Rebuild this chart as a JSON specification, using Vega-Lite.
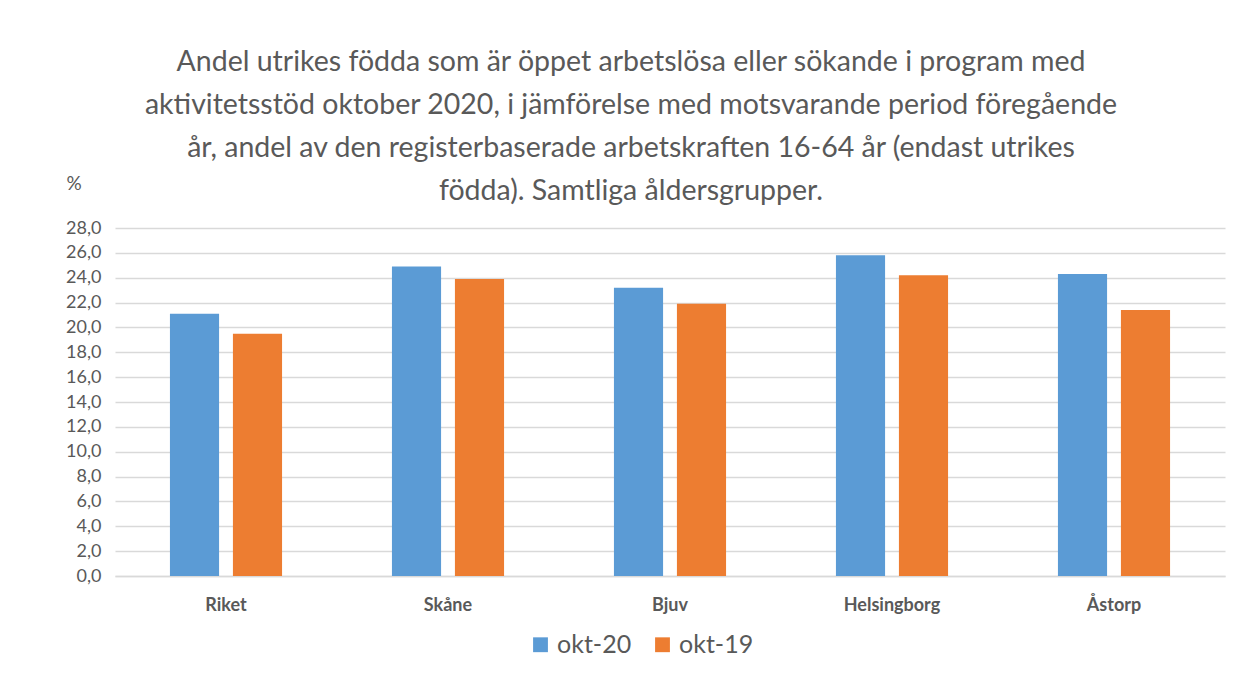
{
  "$schema": "https://vega.github.io/schema/vega-lite/v6.json",
  "autosize": "none",
  "width": 1110,
  "height": 348,
  "padding": {"left": 115, "top": 228, "right": 17, "bottom": 103},
  "background": "white",
  "config": {
    "locale": {"number": {"decimal": ",", "thousands": " ", "grouping": [3], "currency": ["", " kr"]}},
    "view": {"stroke": null},
    "font": "Lato"
  },
  "title": {
    "text": [
      "Andel utrikes födda som är öppet arbetslösa eller sökande i program med",
      "aktivitetsstöd oktober 2020, i jämförelse med motsvarande period föregående",
      "år, andel av den registerbaserade arbetskraften 16-64 år (endast utrikes",
      "födda). Samtliga åldersgrupper."
    ],
    "anchor": "middle",
    "dx": -39,
    "offset": -31,
    "fontSize": 28.5,
    "lineHeight": 43,
    "fontWeight": "normal",
    "color": "#595959",
    "font": "Lato"
  },
  "data": {
    "values": [
      {"region": "Riket", "period": "okt-20", "value": 21.1},
      {"region": "Riket", "period": "okt-19", "value": 19.5},
      {"region": "Skåne", "period": "okt-20", "value": 24.9},
      {"region": "Skåne", "period": "okt-19", "value": 23.9},
      {"region": "Bjuv", "period": "okt-20", "value": 23.2},
      {"region": "Bjuv", "period": "okt-19", "value": 21.9},
      {"region": "Helsingborg", "period": "okt-20", "value": 25.8},
      {"region": "Helsingborg", "period": "okt-19", "value": 24.2},
      {"region": "Åstorp", "period": "okt-20", "value": 24.3},
      {"region": "Åstorp", "period": "okt-19", "value": 21.4}
    ]
  },
  "mark": {"type": "bar"},
  "encoding": {
    "x": {
      "field": "region",
      "type": "nominal",
      "sort": null,
      "scale": {"paddingInner": 0.495, "paddingOuter": 0.2475},
      "axis": {
        "title": null,
        "labelAngle": 0,
        "labelFontSize": 18,
        "labelFontWeight": "bold",
        "labelColor": "#595959",
        "labelPadding": 20,
        "ticks": false,
        "domainColor": "#d9d9d9",
        "domainWidth": 1.5
      }
    },
    "xOffset": {
      "field": "period",
      "type": "nominal",
      "sort": ["okt-20", "okt-19"],
      "scale": {"paddingInner": 0.22, "paddingOuter": 0}
    },
    "y": {
      "field": "value",
      "type": "quantitative",
      "scale": {"domain": [0, 28]},
      "axis": {
        "values": [0, 2, 4, 6, 8, 10, 12, 14, 16, 18, 20, 22, 24, 26, 28],
        "format": ".1f",
        "labelFontSize": 18,
        "labelColor": "#595959",
        "labelPadding": 14,
        "ticks": false,
        "domain": false,
        "gridColor": "#d9d9d9",
        "gridWidth": 1.5,
        "title": "%",
        "titleAngle": 0,
        "titleX": -49,
        "titleY": -45,
        "titleAlign": "left",
        "titleBaseline": "middle",
        "titleFontSize": 19,
        "titleFontWeight": "normal",
        "titleColor": "#595959"
      }
    },
    "color": {
      "field": "period",
      "type": "nominal",
      "sort": ["okt-20", "okt-19"],
      "scale": {"domain": ["okt-20", "okt-19"], "range": ["#5B9BD5", "#ED7D31"]},
      "legend": {
        "title": null,
        "orient": "none",
        "direction": "horizontal",
        "legendX": 413,
        "legendY": 404,
        "symbolType": "square",
        "symbolSize": 220,
        "symbolStrokeWidth": 0,
        "labelFontSize": 25,
        "labelColor": "#595959",
        "columnPadding": 18,
        "labelOffset": 4
      }
    }
  }
}
